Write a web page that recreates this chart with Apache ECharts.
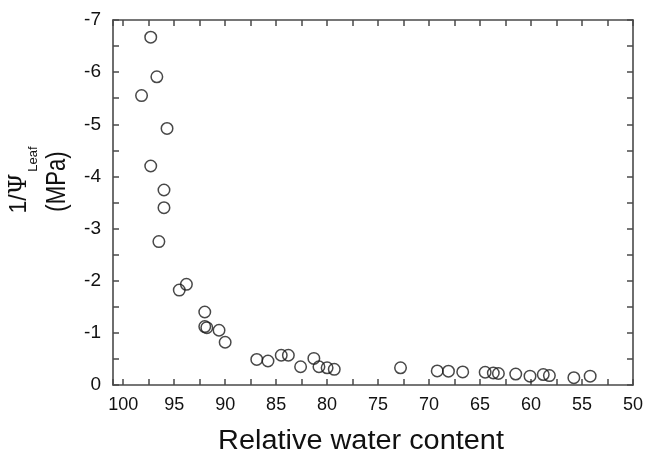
<!DOCTYPE html>
<html>
<head>
<meta charset="utf-8">
<script src="https://cdn.jsdelivr.net/npm/echarts@6/dist/echarts.min.js"></script>
<style>
  html, body { margin: 0; padding: 0; background: #fff; }
  #chart { width: 646px; height: 452px; }
</style>
</head>
<body>
<div id="chart"></div>
<script>
// Relative water content (%) of each leaf sample
const rwc = [97.3, 96.7, 98.2, 95.7, 97.3, 96.0, 96.0, 96.5, 94.5, 93.8,
             92.0, 92.0, 91.8, 90.6, 90.0, 86.9, 85.8, 84.5, 83.8, 82.6,
             81.3, 80.8, 80.0, 79.3, 72.8, 69.2, 68.1, 66.7, 64.5, 63.7,
             63.2, 61.5, 60.1, 58.8, 58.2, 55.8, 54.2];
// Inverse leaf water potential, 1/Psi_leaf (MPa)
const invPsi = [-6.67, -5.91, -5.55, -4.92, -4.20, -3.74, -3.40, -2.75, -1.82, -1.93,
                -1.40, -1.12, -1.10, -1.05, -0.82, -0.49, -0.46, -0.57, -0.57, -0.35,
                -0.51, -0.35, -0.33, -0.30, -0.33, -0.27, -0.265, -0.25, -0.245, -0.23,
                -0.22, -0.21, -0.17, -0.20, -0.18, -0.14, -0.17];
// Axis ranges and tick steps
const xRange = [50, 101];
const xStep = 2.5;
const yRange = [-7, 0];
const yStep = 0.5;

const FONT = "'Liberation Sans', Arial, sans-serif";
const SERIF = "'DejaVu Serif', 'Liberation Serif', serif";
const AXIS_COLOR = '#4a4a4a';

const points = rwc.map((v, i) => [v, invPsi[i]]);

function frameAxis(extra) {
  return Object.assign({
    type: 'value',
    inverse: true,
    axisLine: { show: true, onZero: false, lineStyle: { color: AXIS_COLOR, width: 1.6 } },
    axisTick: { show: true, inside: true, length: 6, lineStyle: { color: AXIS_COLOR, width: 1.5 } },
    splitLine: { show: false },
    axisLabel: { show: false }
  }, extra);
}

const chart = echarts.init(document.getElementById('chart'), null, { renderer: 'canvas' });

chart.setOption({
  animation: false,
  backgroundColor: '#fff',
  grid: { left: 113, right: 10, top: 20, bottom: 67, containLabel: false },
  xAxis: [
    frameAxis({
      position: 'bottom', min: xRange[0], max: xRange[1], interval: xStep,
      axisLabel: {
        show: true, margin: 11, color: '#111', fontSize: 18, fontFamily: FONT,
        formatter: v => (Math.abs(v % 5) < 1e-9 ? String(v) : '')
      }
    }),
    frameAxis({ position: 'top', min: xRange[0], max: xRange[1], interval: xStep })
  ],
  yAxis: [
    frameAxis({
      position: 'left', min: yRange[0], max: yRange[1], interval: yStep,
      axisLabel: {
        show: true, margin: 12, color: '#111', fontSize: 19, fontFamily: FONT,
        formatter: v => (Number.isInteger(v) ? String(v) : '')
      }
    }),
    frameAxis({ position: 'right', min: yRange[0], max: yRange[1], interval: yStep })
  ],
  series: [{
    type: 'scatter',
    xAxisIndex: 0,
    yAxisIndex: 0,
    data: points,
    symbol: 'circle',
    symbolSize: 11.5,
    itemStyle: { color: 'rgba(0,0,0,0)', borderColor: '#1a1a1a', borderWidth: 1.5 },
    emphasis: { disabled: true },
    silent: true
  }],
  graphic: [
    {
      type: 'text', x: 361, y: 442, scaleX: 1.07, silent: true,
      style: { text: 'Relative water content', fontSize: 27, fontFamily: FONT, fill: '#111',
               align: 'center', verticalAlign: 'middle' }
    },
    {
      type: 'text', x: 20, y: 193.5, rotation: Math.PI / 2, silent: true,
      style: {
        text: '{n|1/}{p|Ψ}',
        align: 'center', verticalAlign: 'middle',
        rich: {
          n: { fontSize: 23, fontFamily: FONT, fill: '#111' },
          p: { fontSize: 24, fontFamily: SERIF, fill: '#111' }
        }
      }
    },
    {
      type: 'text', x: 33, y: 159, rotation: Math.PI / 2, silent: true,
      style: { text: 'Leaf', fontSize: 13, fontFamily: FONT, fill: '#111',
               align: 'center', verticalAlign: 'middle' }
    },
    {
      type: 'text', x: 58, y: 181.5, rotation: Math.PI / 2, scaleX: 0.82, silent: true,
      style: { text: '(MPa)', fontSize: 27, fontFamily: FONT, fill: '#111',
               align: 'center', verticalAlign: 'middle' }
    }
  ]
});
</script>
</body>
</html>
